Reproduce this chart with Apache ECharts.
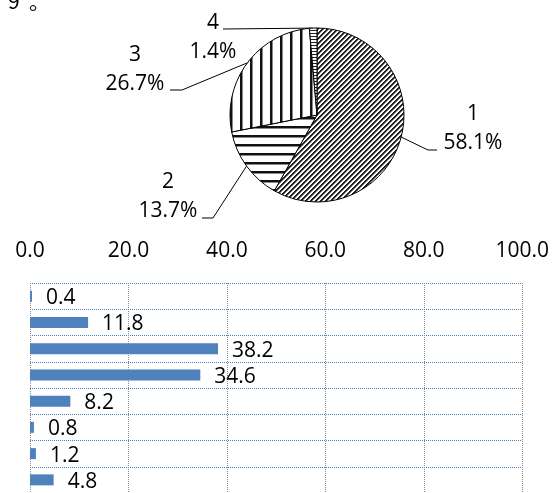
<!DOCTYPE html>
<html>
<head>
<meta charset="utf-8">
<script src="https://cdn.jsdelivr.net/npm/echarts@6/dist/echarts.min.js"></script>
<style>
  html, body { margin: 0; padding: 0; background: #fff; }
  #container { width: 552px; height: 493px; }
</style>
</head>
<body>
<div id="container"></div>
<script>
// pie data
var pieNames = ['1', '2', '3', '4'];
var pieValues = [58.1, 13.7, 26.7, 1.4];

// bar data (top to bottom)
var barCats = ['a', 'b', 'c', 'd', 'e', 'f', 'g', 'h'];
var barValues = [0.4, 11.8, 38.2, 34.6, 8.2, 0.8, 1.2, 4.8];

// label placement for the pie (layout only)
var labelAt = [[473, 129], [168, 197], [135, 70], [213, 38]];
var lineElbow = [[428, 150], [213, 218], [182, 90], [223, 29]];
var lineEnd = [[437, 150], [202, 218], [170, 90], [223, 29]];

var FONT = '"Open Sans", sans-serif';

function makePattern(w, h, draw) {
    var c = document.createElement('canvas');
    c.width = w;
    c.height = h;
    var ctx = c.getContext('2d');
    ctx.fillStyle = '#fff';
    ctx.fillRect(0, 0, w, h);
    for (var y = 0; y < h; y++) {
        for (var x = 0; x < w; x++) {
            var col = draw(x, y);
            if (col) {
                ctx.fillStyle = col;
                ctx.fillRect(x, y, 1, 1);
            }
        }
    }
    return { image: c, repeat: 'repeat' };
}

var patterns = [
    // diagonal stripes
    makePattern(5, 5, function (x, y) {
        var k = (x + y) % 5;
        if (k < 2) return '#222';
        if (k == 2) return '#888';
        return null;
    }),
    // horizontal lines
    makePattern(1, 9, function (x, y) {
        if (y < 2) return '#111';
        if (y == 2) return '#888';
        return null;
    }),
    // vertical lines
    makePattern(10, 1, function (x, y) {
        if (x < 2) return '#111';
        if (x == 2) return '#888';
        return null;
    }),
    // dense small lines
    makePattern(1, 3, function (x, y) {
        return y == 0 ? '#222' : null;
    })
];

var pieData = pieNames.map(function (n, i) {
    return { name: n, value: pieValues[i], itemStyle: { color: patterns[i] } };
});

var dom = document.getElementById('container');
var chart = echarts.init(dom, null, { renderer: 'canvas' });

var option = {
    animation: false,
    backgroundColor: '#fff',
    textStyle: { fontFamily: FONT },
    graphic: [
        {
            type: 'text',
            left: 8,
            top: -9,
            style: {
                text: '9  。',
                font: '21px "Noto Sans CJK SC", sans-serif',
                fill: '#000'
            }
        }
    ],
    grid: {
        left: 30,
        right: 28,
        top: 283,
        height: 213.6
    },
    xAxis: {
        type: 'value',
        position: 'top',
        min: 0,
        max: 100,
        interval: 20,
        axisLine: { show: false },
        axisTick: { show: false },
        axisLabel: {
            color: '#000',
            fontSize: 21,
            fontFamily: FONT,
            margin: 21,
            formatter: function (v) { return v.toFixed(1); }
        },
        splitLine: {
            show: true,
            lineStyle: { color: '#8c8c8c', type: 'dotted', width: 1 }
        }
    },
    yAxis: {
        type: 'category',
        data: barCats,
        inverse: true,
        axisLine: { show: false },
        axisTick: { show: false },
        axisLabel: { show: false },
        splitLine: {
            show: true,
            lineStyle: { color: '#4a7ebf', type: 'dotted', width: 1 }
        }
    },
    series: [
        {
            type: 'bar',
            data: barValues,
            barWidth: 11,
            itemStyle: { color: '#4f81bd' },
            label: {
                show: true,
                position: 'right',
                distance: 14,
                offset: [0, 2],
                color: '#000',
                fontSize: 21,
                fontFamily: FONT,
                formatter: function (p) { return p.value.toFixed(1); }
            },
            silent: true
        },
        {
            type: 'pie',
            center: [317, 115],
            radius: 87,
            startAngle: 90,
            clockwise: true,
            data: pieData,
            silent: true,
            itemStyle: { borderColor: '#000', borderWidth: 1 },
            label: {
                show: true,
                color: '#000',
                fontSize: 21,
                fontFamily: FONT,
                lineHeight: 29,
                align: 'center',
                formatter: function (p) { return p.name + '\n' + p.value.toFixed(1) + '%'; }
            },
            labelLine: {
                show: true,
                lineStyle: { color: '#000', width: 1 }
            },
            labelLayout: function (p) {
                var i = p.dataIndex;
                var edge = p.labelLinePoints ? p.labelLinePoints[0] : lineElbow[i];
                return {
                    x: labelAt[i][0],
                    y: labelAt[i][1],
                    align: 'center',
                    verticalAlign: 'middle',
                    labelLinePoints: [edge, lineElbow[i], lineEnd[i]]
                };
            }
        }
    ]
};

chart.setOption(option);
window.addEventListener('resize', chart.resize);
</script>
</body>
</html>
